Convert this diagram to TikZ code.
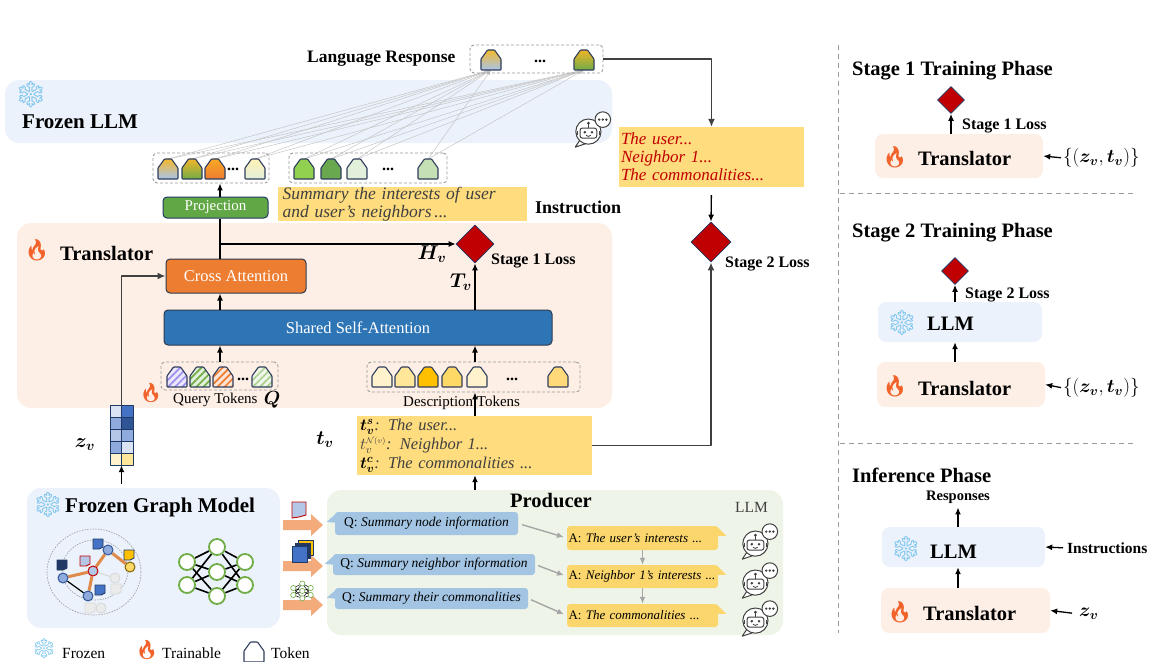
\RequirePackage{fix-cm}
\documentclass[tikz,border=0pt]{standalone}
\usepackage{amsmath}
\usepackage{bm}
\usepackage{fontspec}
\setmainfont{Liberation Serif}
\newfontfamily\emojifont{Noto Emoji}
\usetikzlibrary{shapes.geometric,arrows.meta,patterns.meta,calc}
\pgfdeclarelayer{back}
\pgfdeclarelayer{mid}
\pgfsetlayers{back,mid,main}

\definecolor{llmbg}{HTML}{EBF2FB}
\definecolor{transbg}{HTML}{FDEFE6}
\definecolor{prodbg}{HTML}{EEF5E8}
\definecolor{ybox}{HTML}{FFDC7D}
\definecolor{qblue}{HTML}{A3C5E3}
\definecolor{ayel}{HTML}{FAD66C}
\definecolor{projg}{HTML}{62A745}
\definecolor{crossor}{HTML}{ED7D31}
\definecolor{ssab}{HTML}{2E75B6}
\definecolor{lossred}{HTML}{C00000}
\definecolor{navy}{HTML}{203864}
\definecolor{tokline}{HTML}{2F3D5C}
\definecolor{darkg}{HTML}{404040}
\definecolor{thinline}{HTML}{C6C6C6}
\definecolor{dashg}{HTML}{9A9A9A}
\definecolor{flame}{HTML}{F2622B}
\definecolor{snow}{HTML}{7CC4EE}
\definecolor{fatarrow}{HTML}{F4AB7C}
\definecolor{redtext}{HTML}{C00000}
\definecolor{arrowg}{HTML}{A6A6A6}
\definecolor{gnf}{HTML}{8FAADC}
\definecolor{gnb}{HTML}{2F5597}
\definecolor{gedge}{HTML}{E08A4A}
\definecolor{nng}{HTML}{70AD47}
\definecolor{bordc}{HTML}{2E3A4F}
\definecolor{lgray}{HTML}{D9D9D9}
\definecolor{lgfill}{HTML}{EBEBEB}
\definecolor{tagblue}{HTML}{4472C4}
\definecolor{taglb}{HTML}{B4C7E7}
\definecolor{tagy}{HTML}{FFC000}
\definecolor{gyel}{HTML}{FFD966}
\definecolor{gyelb}{HTML}{7F6000}
\definecolor{zpale}{HTML}{DAE3F3}
\definecolor{zcream}{HTML}{FFF2CC}
\definecolor{zsand}{HTML}{FFE699}

\newcommand{\setfs}[1]{\fontsize{#1}{#1}\selectfont}
\newcommand{\snowicon}{{\emojifont\symbol{"2744}}}
\newcommand{\fireicon}{{\emojifont\symbol{"1F525}}}

% token with a vertical colour fade (hex colours); #5 names its top, #5b its bottom
\newcommand{\gtok}[5]{%
  \begin{scope}[shift={(#1,#2)}]
    \definecolor{tkT}{HTML}{#3}\definecolor{tkB}{HTML}{#4}%
    \shade[top color=tkT, bottom color=tkB, draw=tokline, line width=1.1pt, rounded corners=0.7pt]
      (-10,0) -- (10,0) -- (10,-11) -- (3.5,-20) -- (-3.5,-20) -- (-10,-11) -- cycle;
    \coordinate (#5) at (0,-20);
    \coordinate (#5b) at (0,0);
  \end{scope}}
% hatched (learnable) token
\newcommand{\htok}[4]{%
  \begin{scope}[shift={(#1,#2)}]
    \definecolor{hkF}{HTML}{#3}\definecolor{hkB}{HTML}{#4}%
    \fill[hkB]
      (-10,0) -- (10,0) -- (10,-11) -- (3.5,-20) -- (-3.5,-20) -- (-10,-11) -- cycle;
    \fill[pattern={Lines[angle=45,distance=5pt,line width=1.7pt]}, pattern color=hkF]
      (-10,0) -- (10,0) -- (10,-11) -- (3.5,-20) -- (-3.5,-20) -- (-10,-11) -- cycle;
    \draw[tokline, line width=1.1pt, rounded corners=0.7pt]
      (-10,0) -- (10,0) -- (10,-11) -- (3.5,-20) -- (-3.5,-20) -- (-10,-11) -- cycle;
  \end{scope}}
% small tag attached to a graph node
\newcommand{\gtag}[4]{%
  \begin{scope}[shift={(#1,#2)}]
    \filldraw[fill=#3, draw=#4, line width=0.9pt] (-5,-5) -- (5,-5) -- (5,3) -- (1,5) -- (-5,5) -- cycle;
  \end{scope}}
% thick orange arrow feeding the producer
\newcommand{\fatarr}[1]{%
  \fill[fatarrow] (283,#1-5) -- (311,#1-5) -- (311,#1-11) -- (323,#1) -- (311,#1+11) -- (311,#1+5) -- (283,#1+5) -- cycle;}

\tikzset{
  robot/.pic={
    \draw[darkg, line width=1pt, fill=white] (-10,10) -- (-14,16) -- (-5,13) -- cycle;
    \draw[darkg, line width=1pt, fill=white] (-3,3) circle (10.5);
    \draw[darkg, line width=1pt, rounded corners=2.5pt] (-10,0) rectangle (4,8.5);
    \fill[darkg] (-6,3.5) circle (1.2) (0,3.5) circle (1.2);
    \draw[darkg, line width=0.8pt] (-5,6) .. controls (-4,7.4) and (-2,7.4) .. (-1,6);
    \draw[darkg, line width=1pt] (-3,0) -- (-3,-3);
    \fill[darkg] (-3,-4) circle (1.3);
    \draw[darkg, line width=1pt] (-12,2.5) -- (-12,6) (6,2.5) -- (6,6);
    \draw[darkg, line width=1pt, fill=white] (9,-7) circle (6.5);
    \fill[darkg] (6,-7) circle (1.1) (9,-7) circle (1.1) (12,-7) circle (1.1);
  }
}

\begin{document}
\begin{tikzpicture}[x=1pt,y=-1pt, line join=round,
  arr/.style={-{Latex[length=7pt,width=6pt]}, line width=1.3pt, black},
  garr/.style={-{Latex[length=8pt,width=7pt]}, line width=1.6pt, darkg},
  thinarr/.style={-{Latex[length=5pt,width=4pt]}, line width=0.5pt, thinline},
  parr/.style={-{Latex[length=7pt,width=6pt]}, line width=1.4pt, arrowg},
  panel/.style={rounded corners=14pt, inner sep=0pt},
  sbox/.style={rounded corners=8pt, inner sep=0pt},
  dashbox/.style={draw=dashg, dash pattern=on 3pt off 2pt, rounded corners=4pt, line width=0.9pt, inner sep=0pt},
  blk/.style={rounded corners=4pt, draw=bordc, line width=1pt, text=white, inner sep=0pt},
  loss/.style={diamond, fill=lossred, draw=navy, line width=0.8pt, inner sep=0pt, aspect=1},
  lbl/.style={anchor=base west, inner sep=0pt},
  gn/.style={circle, draw=gnb, fill=gnf, line width=1pt, minimum size=10pt, inner sep=0pt},
  nn/.style={circle, draw=nng, fill=white, line width=1.8pt, minimum size=16pt, inner sep=0pt},
  qb/.style={fill=qblue, rounded corners=3pt, inner sep=0pt, font=\setfs{13.5}},
  ab/.style={fill=ayel, rounded corners=3pt, inner sep=0pt, font=\setfs{13}, text width=148pt, align=left},
  snowf/.style={text=snow, inner sep=0pt},
  firef/.style={text=flame, inner sep=0pt}
]
\useasboundingbox (0,0) rectangle (1155,661);

% ---------------- background panels
\begin{pgfonlayer}{back}
  \node[panel, fill=llmbg,   minimum width=607pt, minimum height=63pt]  (llm)   at (308.5,111.5) {};
  \node[panel, fill=transbg, minimum width=595pt, minimum height=185pt] (trans) at (314.5,315.5) {};
  \node[panel, fill=llmbg,   minimum width=253pt, minimum height=140pt] (gm)    at (153.5,558) {};
  \node[panel, fill=prodbg,  minimum width=456pt, minimum height=145pt] (prod)  at (555,562.5) {};
  \node[sbox, fill=transbg, minimum width=168pt, minimum height=44pt] (tr1)  at (959,156) {};
  \node[sbox, fill=llmbg,   minimum width=164pt, minimum height=40pt] (llm2) at (960,322) {};
  \node[sbox, fill=transbg, minimum width=168pt, minimum height=45pt] (tr2)  at (961,384.5) {};
  \node[sbox, fill=llmbg,   minimum width=163pt, minimum height=40pt] (llm3) at (963.5,547) {};
  \node[sbox, fill=transbg, minimum width=169pt, minimum height=45pt] (tr3)  at (965.5,610.5) {};
\end{pgfonlayer}

% ---------------- frozen LLM and its response
\node[snowf, font=\setfs{26}] (snowA) at (31,95) {\snowicon};
\node[lbl, font=\bfseries\setfs{21}] (llmlab) at (22,128) {Frozen LLM};
\pic[scale=1.2] at (592,128) {robot};

\node[lbl, font=\bfseries\setfs{17.5}] (lrlab) at (307,63) {Language Response};
\node[dashbox, minimum width=133pt, minimum height=28pt] (lrbox) at (536.5,59) {};
\gtok{491}{70}{F2B92E}{A9C4EB}{o1}
\node[font=\bfseries\setfs{16}] (odots) at (540,61) {...};
\gtok{584}{70}{F0B429}{70AD47}{o2}

% input tokens of the LLM
\node[dashbox, minimum width=116pt, minimum height=30pt] (ltok) at (211,168) {};
\gtok{168}{179}{F2B92E}{A9C4EB}{l1}
\gtok{192}{179}{F0B429}{70AD47}{l2}
\gtok{215}{179}{F9A825}{ED7D31}{l3}
\node[font=\bfseries\setfs{16}] (ldots) at (233,169) {...};
\gtok{255}{179}{FFF1B5}{E2EFDA}{l4}

\node[dashbox, minimum width=158pt, minimum height=30pt] (rtok) at (368,168) {};
\gtok{304}{179}{92D050}{92D050}{r1}
\gtok{331}{179}{6AA84F}{6AA84F}{r2}
\gtok{357}{179}{E2EFDA}{E2EFDA}{r3}
\node[font=\bfseries\setfs{16}] (rdots) at (388,169) {...};
\gtok{428}{179}{C5E0B4}{C5E0B4}{r4}

\begin{pgfonlayer}{mid}
  \foreach \s in {l1,l2,l3,l4,r1,r2,r3,r4}
    \foreach \t in {o1b,o2b}
      \draw[thinarr] (\s) -- (\t);
\end{pgfonlayer}

\node[fill=ybox, minimum width=249pt, minimum height=33pt, inner sep=0pt, text width=240pt, align=left,
      text=darkg, font=\itshape\fontsize{17.5}{18}\selectfont] (instr) at (402.5,204)
      {Summary the interests of user\\and user’s neighbors\,...};
\node[lbl, font=\bfseries\setfs{18}] (instrlab) at (535,213) {Instruction};

% ---------------- translator
\node[firef, font=\setfs{21}] (fireA) at (37,250) {\fireicon};
\node[lbl, font=\bfseries\setfs{20.5}] (translab) at (60,260) {Translator};

\node[blk, fill=projg, draw=navy, minimum width=105pt, minimum height=21pt, font=\setfs{15}] (proj) at (215.5,207.5) {Projection};
\node[blk, fill=crossor, minimum width=140pt, minimum height=34pt, font=\setfs{16.5}] (ca) at (236,276) {Cross Attention};
\node[blk, fill=ssab, minimum width=388pt, minimum height=35pt, font=\setfs{16.5}] (ssa) at (358,327.5) {Shared Self-Attention};
\node[loss, minimum width=38pt, minimum height=38pt] (loss1) at (475,244) {};
\node[lbl, font=\bfseries\setfs{16}] (loss1lab) at (491,264) {Stage 1 Loss};
\node[font=\setfs{20}] (hv) at (432,254) {$\bm{H}_{\bm v}$};
\node[font=\setfs{20}] (tvl) at (461,282) {$\bm{T}_{\bm v}$};

\coordinate (ax) at (220,244);
\draw[line width=1.3pt] (proj.south -| ax) -- (ca.north -| ax);
\draw[arr] (ax) -- (loss1.west);
\draw[arr] (proj.north -| ax) -- (ltok.south -| ax);
\draw[arr] (ssa.north -| ax) -- (ca.south -| ax);
\draw[arr] (ssa.north -| loss1) -- (loss1.south);

% query tokens
\node[dashbox, minimum width=117pt, minimum height=28pt] (qtok) at (219.5,376) {};
\htok{177}{387}{9E90EE}{ECE8FC}
\htok{200}{387}{70AD47}{E2EFDA}
\htok{223}{387}{ED7D31}{FBE5D6}
\node[font=\bfseries\setfs{16}] (qdots) at (243,379) {...};
\htok{262}{387}{A9D18E}{F0F6EC}
\node[firef, font=\setfs{19}] (fireQ) at (151,393) {\fireicon};
\node[lbl, font=\setfs{15}] (qlab) at (173,403) {Query Tokens};
\node[font=\setfs{19}] (qsym) at (272,400) {$\bm{Q}$};
\draw[arr] (qtok.north -| ax) -- (ssa.south -| ax);

% description tokens
\node[dashbox, minimum width=213pt, minimum height=30pt] (dtok) at (473.5,377) {};
\gtok{382}{387}{FFF2CC}{FFF2CC}{d1}
\gtok{405}{387}{FFE699}{FFE699}{d2}
\gtok{428}{387}{FFC000}{FFC000}{d3}
\gtok{452}{387}{FFD966}{FFD966}{d4}
\gtok{477}{387}{FFF2CC}{FFF2CC}{d5}
\node[font=\bfseries\setfs{16}] (ddots) at (512,379) {...};
\gtok{558}{387}{FFD97A}{FFD97A}{d6}
\node[lbl, font=\setfs{15}] (dlab) at (403,406) {Description Tokens};
\draw[arr] (dtok.north -| loss1) -- (ssa.south -| loss1);

% ---------------- text descriptions
\node[fill=ybox, minimum width=235pt, minimum height=59pt, inner sep=0pt, text width=229pt, align=left,
      text=darkg, font=\itshape\fontsize{16.5}{19}\selectfont] (tvbox) at (474.5,445.5)
      {{\color{black}$\bm{t}_{\bm v}^{\bm s}$}: The user...\\
       $t_v^{\scriptscriptstyle\mathcal{N}(v)}$: Neighbor 1...\\
       {\color{black}$\bm{t}_{\bm v}^{\bm c}$}: The commonalities ...};
\node[font=\setfs{20}] (tvsym) at (325,440) {$\bm{t}_{\bm v}$};
\draw[arr] (tvbox.north -| loss1) -- (dtok.south -| loss1);
\draw[arr] (prod.north -| loss1) -- (tvbox.south -| loss1);

\node[fill=ybox, minimum width=185pt, minimum height=60pt, inner sep=0pt, text width=181pt, align=left,
      text=redtext, font=\itshape\fontsize{17}{18}\selectfont] (redbox) at (711.5,157)
      {The user...\\Neighbor 1...\\The commonalities...};
\node[loss, minimum width=40pt, minimum height=40pt] (loss2) at (711,242) {};
\node[lbl, font=\bfseries\setfs{16}] (loss2lab) at (725,267) {Stage 2 Loss};
\draw[garr] (lrbox.east) -| (redbox.north);
\draw[arr, shorten <=8pt] (redbox.south) -- (loss2.north);
\draw[garr] (tvbox.east) -| (loss2.south);

% ---------------- node embedding z_v
\node[minimum width=23pt, minimum height=60pt, inner sep=0pt] (zv) at (121.5,435) {};
\begin{scope}[draw=navy, line width=0.8pt]
  \filldraw[fill=zpale]   (110,405) rectangle (121.5,417);
  \filldraw[fill=tagblue] (121.5,405) rectangle (133,417);
  \filldraw[fill=gnf]     (110,417) rectangle (121.5,429);
  \filldraw[fill=gnb]     (121.5,417) rectangle (133,429);
  \filldraw[fill=taglb]   (110,429) rectangle (121.5,441);
  \filldraw[fill=gnf]     (121.5,429) rectangle (133,441);
  \filldraw[fill=gnf]     (110,441) rectangle (121.5,453);
  \filldraw[fill=zpale]   (121.5,441) rectangle (133,453);
  \filldraw[fill=zcream]  (110,453) rectangle (121.5,465);
  \filldraw[fill=zsand]   (121.5,453) rectangle (133,465);
\end{scope}
\node[font=\setfs{20}] (zvsym) at (85,445) {$\bm{z}_{\bm v}$};
\draw[arr, shorten <=4pt] (gm.north -| zv) -- (zv.south);
\draw[garr] (zv.north) |- (ca.west);

% ---------------- frozen graph model
\node[snowf, font=\setfs{25}] (snowG) at (48,505) {\snowicon};
\node[lbl, font=\bfseries\setfs{21}] (gmlab) at (65,512) {Frozen Graph Model};
\draw[dashg, line width=0.6pt, dash pattern=on 1.5pt off 1.2pt] (94,572) ellipse (47 and 43);
\draw[dashg, line width=0.6pt, dash pattern=on 1.5pt off 1.2pt] (95,570) ellipse (33 and 30);
\node[gn] (gA) at (63,578) {};
\node[gn, draw=lossred, fill=taglb] (gB) at (93,571) {};
\node[gn] (gC) at (108,550) {};
\node[gn, draw=gyelb, fill=gyel] (gD) at (130,567) {};
\node[gn] (gE) at (88,596) {};
\node[gn, draw=lgray, fill=lgfill] (gF) at (115,578) {};
\node[gn, draw=lgray, fill=lgfill] (gG) at (101,608) {};
\begin{pgfonlayer}{mid}
  \draw[gedge, line width=3pt] (gA) -- (gB) -- (gC) -- (gD);
  \draw[gedge, line width=3pt] (gB) -- (gE);
  \draw[black, line width=1.2pt] (gA) -- (gE);
  \draw[lgray, line width=1.2pt] (gB) -- (gF);
\end{pgfonlayer}
\gtag{62}{565}{navy}{navy}
\gtag{85}{561}{taglb}{lossred}
\gtag{98}{544}{tagblue}{navy}
\gtag{129}{555}{tagy}{navy}
\gtag{100}{590}{tagblue}{navy}
\gtag{116}{589}{lgfill}{lgray}
\gtag{90}{608}{lgfill}{lgray}

% graph neural network
\node[nn] (n1) at (187,562) {};
\node[nn] (n2) at (187,585) {};
\node[nn] (n3) at (217,547) {};
\node[nn] (n4) at (217,572) {};
\node[nn] (n5) at (217,596) {};
\node[nn] (n6) at (245,562) {};
\node[nn] (n7) at (245,585) {};
\begin{pgfonlayer}{mid}
  \foreach \a in {n1,n2} \foreach \b in {n3,n4,n5} \draw[black, line width=1.6pt] (\a) -- (\b);
  \foreach \a in {n3,n4,n5} \foreach \b in {n6,n7} \draw[black, line width=1.6pt] (\a) -- (\b);
\end{pgfonlayer}

% ---------------- inputs handed to the producer
\fatarr{525}
\fatarr{566}
\fatarr{605}
\filldraw[fill=taglb, draw=lossred, line width=0.9pt]
  (292,502) -- (306,502) -- (306,515) -- (299,517) -- (292,518) -- cycle;
\filldraw[fill=tagy, draw=navy, line width=0.8pt] (298,540) rectangle (313,555);
\filldraw[fill=navy, draw=navy, line width=0.8pt] (295,543) rectangle (310,558);
\filldraw[fill=tagblue, draw=navy, line width=0.8pt] (292,546) rectangle (307,562);
\begin{scope}[line width=0.5pt]
  \draw (293.3,588) -- (302.3,583.5) (293.3,588) -- (302.3,591) (293.3,588) -- (302.3,598.2)
        (293.3,595) -- (302.3,583.5) (293.3,595) -- (302.3,591) (293.3,595) -- (302.3,598.2)
        (302.3,583.5) -- (310.7,588) (302.3,591) -- (310.7,588) (302.3,598.2) -- (310.7,588)
        (302.3,583.5) -- (310.7,595) (302.3,591) -- (310.7,595) (302.3,598.2) -- (310.7,595);
  \foreach \p in {(293.3,588),(293.3,595),(302.3,583.5),(302.3,591),(302.3,598.2),(310.7,588),(310.7,595)}
    \filldraw[fill=white, draw=nng, line width=0.6pt] \p circle (2.6);
\end{scope}

% ---------------- producer
\node[lbl, font=\bfseries\setfs{20.5}] (prodlab) at (510,507) {Producer};
\node[lbl, font=\setfs{15.5}, text=darkg] (prodllm) at (735,512) {LLM};

\node[qb, minimum width=183pt, minimum height=23pt] (q1) at (426.5,523.5) {Q: \textit{Summary node information}};
\node[qb, minimum width=202pt, minimum height=21pt] (q2) at (434,564.5) {Q: \textit{Summary neighbor information}};
\node[qb, minimum width=193pt, minimum height=21pt] (q3) at (431.5,598.5) {Q: \textit{Summary their commonalities}};
\foreach \q in {q1,q2,q3}
  \fill[qblue] ($(\q.north west)+(1,2)$) -- ($(\q.north west)+(-8,10)$) -- ($(\q.north west)+(1,11)$) -- cycle;

\node[ab, minimum width=151pt, minimum height=24pt] (a1) at (642.5,538) {A: \textit{The user's interests ...}};
\node[ab, minimum width=151pt, minimum height=23pt] (a2) at (642.5,576.5) {A: \textit{Neighbor 1’s interests ...}};
\node[ab, minimum width=151pt, minimum height=23pt] (a3) at (642.5,615.5) {A: \textit{The commonalities ...}};
\foreach \a in {a1,a2,a3}
  \fill[ayel] ($(\a.north east)+(-1,1)$) -- ($(\a.north east)+(8,10)$) -- ($(\a.north east)+(-1,10)$) -- cycle;

\draw[parr, shorten <=4pt, shorten >=3pt] (q1.east) -- (a1.west);
\draw[parr, shorten <=3pt, shorten >=3pt] (q2.east) -- (a2.west);
\draw[parr, shorten <=3pt, shorten >=3pt] (q3.east) -- (a3.west);
\draw[parr] (a1.south) -- (a2.north);
\draw[parr] (a2.south) -- (a3.north);

\pic[scale=1.2] at (759,540) {robot};
\pic[scale=1.2] at (759,579) {robot};
\pic[scale=1.2] at (759,617) {robot};

% ---------------- legend
\node[snowf, font=\setfs{20}] (snowL) at (44,649) {\snowicon};
\node[lbl, font=\setfs{15.5}] (legfz) at (62,658) {Frozen};
\node[firef, font=\setfs{19}] (fireL) at (147,650) {\fireicon};
\node[lbl, font=\setfs{15.5}] (legtr) at (162,658) {Trainable};
\gtok{254}{662}{FFFFFF}{FFFFFF}{legtok}
\node[lbl, font=\setfs{15.5}] (legtk) at (271,658) {Token};

% ---------------- training and inference phases
\draw[dashg, line width=1pt, dash pattern=on 5pt off 4pt] (838,45) -- (838,633);
\draw[dashg, line width=1pt, dash pattern=on 5pt off 4pt] (840,193) -- (1133,193);
\draw[dashg, line width=1pt, dash pattern=on 5pt off 4pt] (840,443) -- (1137,443);

\node[lbl, font=\bfseries\setfs{20.5}] (s1title) at (852,75) {Stage 1 Training Phase};
\node[loss, minimum width=27pt, minimum height=27pt] (d1) at (951,100) {};
\node[lbl, font=\bfseries\setfs{16}] (d1lab) at (962,129) {Stage 1 Loss};
\node[firef, font=\setfs{21}] (fire1) at (895,157) {\fireicon};
\node[lbl, font=\bfseries\setfs{20.5}] (tr1lab) at (918,165) {Translator};
\node[anchor=west, inner sep=0pt, font=\setfs{19}] (in1) at (1063,158) {$\{(\bm{z}_{\bm v},\bm{t}_{\bm v})\}$};
\draw[arr] (tr1.north -| d1) -- (d1.south);
\draw[arr, shorten <=2pt] (in1.west) -- (tr1.east);

\node[lbl, font=\bfseries\setfs{20.5}] (s2title) at (852,237) {Stage 2 Training Phase};
\node[loss, minimum width=27pt, minimum height=27pt] (d2) at (955,271) {};
\node[lbl, font=\bfseries\setfs{16}] (d2lab) at (965,298) {Stage 2 Loss};
\node[snowf, font=\setfs{25}] (snow2) at (902,323) {\snowicon};
\node[lbl, font=\bfseries\setfs{20.5}] (llm2lab) at (927,330) {LLM};
\node[firef, font=\setfs{21}] (fire2) at (895,386) {\fireicon};
\node[lbl, font=\bfseries\setfs{20.5}] (tr2lab) at (918,395) {Translator};
\node[anchor=west, inner sep=0pt, font=\setfs{19}] (in2) at (1063,388) {$\{(\bm{z}_{\bm v},\bm{t}_{\bm v})\}$};
\draw[arr] (llm2.north -| d2) -- (d2.south);
\draw[arr] (tr2.north -| d2) -- (llm2.south -| d2);
\draw[arr, shorten <=2pt] (in2.west) -- (tr2.east);

\node[lbl, font=\bfseries\setfs{20.5}] (s3title) at (852,482) {Inference Phase};
\node[font=\bfseries\setfs{14.5}, inner sep=0pt] (resp) at (958,497) {Responses};
\node[snowf, font=\setfs{25}] (snow3) at (906,549) {\snowicon};
\node[lbl, font=\bfseries\setfs{20.5}] (llm3lab) at (930,558) {LLM};
\node[firef, font=\setfs{21}] (fire3) at (900,612) {\fireicon};
\node[lbl, font=\bfseries\setfs{20.5}] (tr3lab) at (923,620) {Translator};
\node[anchor=west, inner sep=0pt, font=\bfseries\setfs{15.5}] (ins) at (1067,548) {Instructions};
\node[anchor=west, inner sep=0pt, font=\setfs{19}] (zin) at (1079,614) {$\bm{z}_{\bm v}$};
\draw[arr, shorten >=4pt] (llm3.north -| resp) -- (resp.south);
\draw[arr] (tr3.north -| resp) -- (llm3.south -| resp);
\draw[arr, shorten <=4pt] (ins.west) -- (llm3.east);
\draw[arr, shorten <=7pt] (zin.west) -- (tr3.east);
\end{tikzpicture}
\end{document}
